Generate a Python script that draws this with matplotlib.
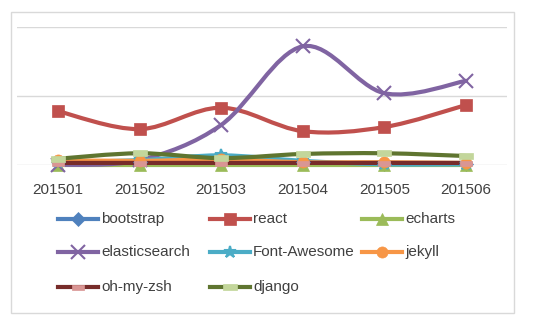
import matplotlib.pyplot as plt
from matplotlib.lines import Line2D
from matplotlib.patches import Rectangle
from matplotlib.path import Path
from matplotlib.patches import PathPatch
import numpy as np

months = ['201501', '201502', '201503', '201504', '201505', '201506']
bootstrap = [0.05, 0.05, 0.12, 0.04, 0.01, 0.01]
react = [0.78, 0.52, 0.83, 0.49, 0.55, 0.87]
echarts = [0.0, 0.0, 0.0, 0.0, 0.0, 0.0]
elasticsearch = [0.0, 0.07, 0.58, 1.72, 1.04, 1.22]
font_awesome = [0.04, 0.07, 0.14, 0.06, 0.01, 0.01]
jekyll = [0.07, 0.06, 0.08, 0.04, 0.04, 0.03]
oh_my_zsh = [0.03, 0.03, 0.03, 0.03, 0.03, 0.03]
django = [0.09, 0.17, 0.10, 0.16, 0.17, 0.13]

names = ['bootstrap', 'react', 'echarts', 'elasticsearch', 'Font-Awesome',
         'jekyll', 'oh-my-zsh', 'django']
series = [bootstrap, react, echarts, elasticsearch, font_awesome, jekyll,
          oh_my_zsh, django]
colors = ['#4F81BD', '#C0504D', '#9BBB59', '#8064A2', '#4BACC6', '#F79646',
          '#772C2A', '#5F7530']

dash = Path([(-1, -0.45), (1, -0.45), (1, 0.45), (-1, 0.45), (-1, -0.45)],
            [Path.MOVETO, Path.LINETO, Path.LINETO, Path.LINETO, Path.CLOSEPOLY])
markers = ['D', 's', '^', 'x', '*', 'o', dash, dash]
mfaces = ['#4F81BD', '#C0504D', '#9BBB59', '#8064A2', '#4BACC6', '#F79646',
          '#D99694', '#C3D69B']
msizes = [7, 9, 8, 10, 9, 8, 8, 10]

plt.rcParams['font.family'] = ['Liberation Sans', 'DejaVu Sans']

fig = plt.figure(figsize=(5.5, 3.21), dpi=100)
W, H = 550, 321
ax = fig.add_axes([17 / W, 1 - 165 / H, 490 / W, 138 / H])


def smooth(xs, ys):  # excel-like bezier smoothing
    p = np.column_stack([xs, ys]).astype(float)
    pad = np.vstack([p[0], p, p[-1]])
    verts = [p[0]]
    codes = [Path.MOVETO]
    for i in range(len(p) - 1):
        p0, p1, p2, p3 = pad[i], pad[i + 1], pad[i + 2], pad[i + 3]
        verts += [p1 + (p2 - p0) / 6, p2 - (p3 - p1) / 6, p2]
        codes += [Path.CURVE4] * 3
    return Path(verts, codes)


def mew_for(m):
    return 1.5 if isinstance(m, str) and m in 'x*' else 0.5


x = np.arange(len(months))
for ys, c, m, mf, ms in zip(series, colors, markers, mfaces, msizes):
    ax.add_patch(PathPatch(smooth(x, ys), fill=False, edgecolor=c, lw=3,
                           capstyle='round', clip_on=False, zorder=3))
    ax.plot(x, ys, ls='none', marker=m, ms=ms, mfc=mf, mec=mf, mew=mew_for(m),
            clip_on=False, zorder=4)

ax.set_xlim(-0.5, 5.5)
ax.set_ylim(0, 2)
ax.set_yticks([0, 1, 2])
ax.set_yticklabels([])
ax.set_xticks(x)
ax.set_xticklabels(months, fontsize=11, color='#404040')
ax.tick_params(length=0, pad=13)
ax.grid(axis='y', color='#D9D9D9', lw=1)
ax.set_axisbelow(True)
for s in ax.spines.values():
    s.set_visible(False)

# legend laid out like excel: 3 equal columns
rows_y = [219, 252, 287]
for i, (name, c, m, mf, ms) in enumerate(zip(names, colors, markers, mfaces, msizes)):
    r, col = i // 3, i % 3
    x0 = 58 + 152 * col
    yy = 1 - rows_y[r] / H
    fig.add_artist(Line2D([x0 / W, (x0 + 40) / W], [yy, yy], color=c, lw=3,
                          transform=fig.transFigure))
    fig.add_artist(Line2D([(x0 + 20) / W], [yy], ls='none', marker=m, ms=ms,
                          mfc=mf, mec=mf, mew=mew_for(m),
                          transform=fig.transFigure))
    fig.text((x0 + 43) / W, yy, name, fontsize=11, color='#404040', va='center')

fig.add_artist(Rectangle((11 / W, 1 - 313 / H), 503 / W, 301 / H, fill=False,
                         edgecolor='#D9D9D9', lw=1, transform=fig.transFigure))

fig.savefig('out.png', dpi=100)
